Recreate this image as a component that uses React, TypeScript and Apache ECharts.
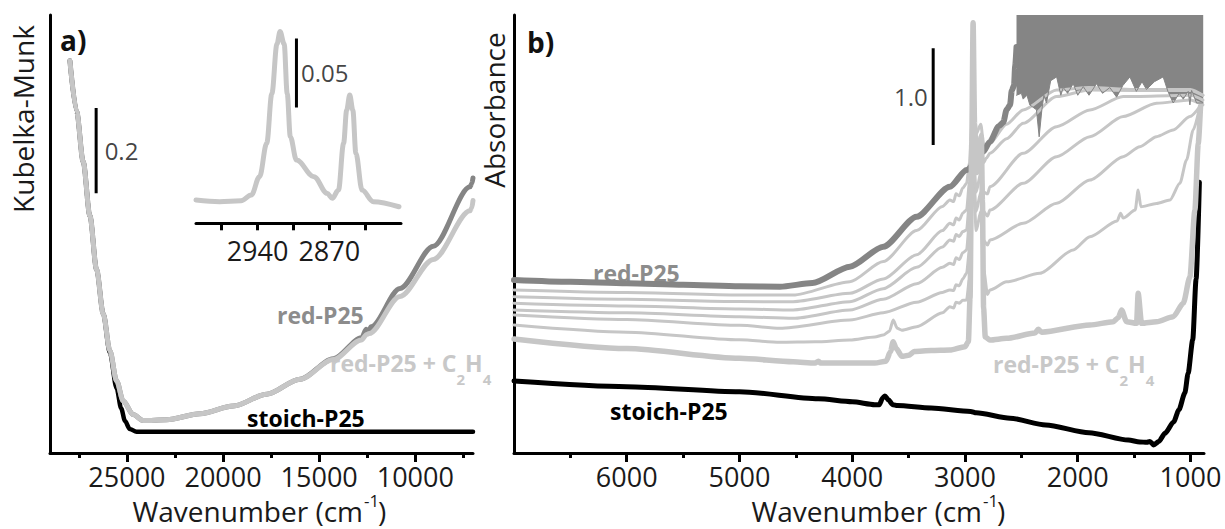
import { useEffect, useRef } from 'react';
import * as echarts from 'echarts';

type P = [number, number];

const FONT = '"Open Sans", "DejaVu Sans", sans-serif';
const DARK = '#858585';
const LIGHT = '#c6c6c6';

// ---------------- Panel a (Kubelka-Munk) ----------------
const aTicksMajor = [25000, 20000, 15000, 10000];
const aTicksMinor = [27500, 22500, 17500, 12500, 7500];

const aStoich: P[] = [
  [27966, 0.92], [27617, 0.801], [27274, 0.683], [26925, 0.556], [26577, 0.43], [26233, 0.327],
  [25885, 0.235], [25536, 0.152], [25300, 0.105], [25100, 0.075], [24850, 0.056], [24500, 0.05], [7000, 0.05],
];
const aRedP25: P[] = [
  [27966, 0.92], [27617, 0.801], [27274, 0.683], [26925, 0.556], [26577, 0.43], [26233, 0.327],
  [25885, 0.24], [25536, 0.169], [25193, 0.122], [24672, 0.09], [24152, 0.076], [22934, 0.078],
  [21202, 0.092], [19469, 0.11], [17731, 0.138], [15999, 0.173], [14266, 0.221], [12800, 0.27],
  [12550, 0.29], [12450, 0.283], [12300, 0.296], [10796, 0.386], [9063, 0.485], [7154, 0.624],
  [7060, 0.632], [7000, 0.645],
];
const aRedP25C2H4: P[] = [
  [27966, 0.92], [27617, 0.801], [27274, 0.683], [26925, 0.556], [26577, 0.43], [26233, 0.327],
  [25885, 0.24], [25536, 0.169], [25193, 0.122], [24672, 0.09], [24152, 0.076], [22934, 0.078],
  [21202, 0.092], [19469, 0.11], [17731, 0.138], [15999, 0.173], [14266, 0.219], [12800, 0.265],
  [12528, 0.278], [12400, 0.28], [10796, 0.367], [9063, 0.454], [7154, 0.568], [7060, 0.575], [7000, 0.592],
];
const aScaleBar: P[] = [[26600, 0.609], [26600, 0.809]];
const aScaleText = '0.2';

// ---------------- Inset (C-H region) ----------------
const insetTicks = [2975, 2940, 2905, 2870, 2835];
const insetTickLabels = [2940, 2870];
const insetCH: P[] = [
  [3000, 0.0169], [2977, 0.0157], [2956, 0.0164], [2946, 0.0205], [2938, 0.0338], [2931, 0.058],
  [2926, 0.094], [2921, 0.13], [2918, 0.139], [2914, 0.13], [2911, 0.094], [2908, 0.0628],
  [2902, 0.0459], [2885, 0.0338], [2872, 0.0217], [2867, 0.0181], [2861, 0.0241], [2856, 0.058],
  [2853, 0.082], [2850, 0.093], [2847, 0.082], [2844, 0.0507], [2838, 0.0241], [2827, 0.0157], [2802, 0.012],
];
const insetScaleBar: P[] = [[2902, 0.084], [2902, 0.134]];
const insetScaleText = '0.05';

// ---------------- Panel b (Absorbance) ----------------
const bTicksMajor = [6000, 5000, 4000, 3000, 2000, 1000];
const bTicksMinor = [6500, 5500, 4500, 3500, 2500, 1500];

const bStoich: P[] = [
  [7000, 0.745], [6000, 0.686], [5000, 0.634], [4300, 0.56], [4000, 0.53], [3800, 0.5], [3760, 0.5],
  [3730, 0.57], [3710, 0.59], [3680, 0.55], [3640, 0.5], [3600, 0.49], [3300, 0.465], [2950, 0.43],
  [2900, 0.415], [2600, 0.36], [2284, 0.29], [1900, 0.21], [1551, 0.134], [1450, 0.115], [1388, 0.11],
  [1360, 0.12], [1326, 0.083], [1280, 0.12], [1226, 0.204], [1150, 0.32], [1103, 0.445], [1050, 0.62],
  [1021, 0.824], [980, 1.17], [950, 1.8], [921, 2.8],
];
const bRedP25: P[] = [
  [7000, 1.789], [6500, 1.77], [6000, 1.755], [5500, 1.74], [5000, 1.725], [4641, 1.72], [4353, 1.758],
  [4021, 1.927], [3725, 2.133], [3429, 2.444], [3134, 2.754], [2986, 2.927], [2838, 3.116], [2779, 3.22],
  [2700, 3.38], [2660, 3.42], [2631, 3.55], [2600, 3.6], [2585, 3.75], [2565, 3.8], [2555, 4.0], [2543, 4.2],
];
const bRedP25Saturated: P[] = [
  [2543, 3.7], [2500, 3.72], [2484, 3.66], [2450, 3.7], [2425, 3.6], [2366, 3.55], [2342, 3.27],
  [2318, 3.55], [2300, 3.7], [2277, 3.62], [2240, 3.85], [2187, 3.89], [2150, 3.7], [2128, 3.78],
  [2090, 3.72], [2040, 3.82], [2000, 3.7], [1951, 3.79], [1900, 3.7], [1833, 3.82], [1780, 3.72],
  [1715, 3.78], [1655, 3.68], [1600, 3.8], [1537, 3.89], [1480, 3.74], [1430, 3.84], [1390, 3.76],
  [1320, 3.84], [1242, 3.89], [1200, 3.74], [1153, 3.62], [1100, 3.72], [1064, 3.66], [1020, 3.74],
  [1005, 3.6], [990, 3.75], [946, 3.62], [887, 3.62],
];
const bStep1: P[] = [
  [7000, 1.686], [6000, 1.66], [5000, 1.635], [4524, 1.634], [4021, 1.772], [3725, 1.98], [3429, 2.3],
  [3200, 2.55], [3134, 2.616], [3100, 2.6], [3080, 2.68], [3050, 2.66], [3020, 2.74], [2986, 2.789],
  [2960, 3.0], [2930, 3.6], [2900, 3.3], [2860, 3.4], [2835, 3.2], [2810, 3.15], [2779, 3.203],
  [2631, 3.4], [2484, 3.548], [2187, 3.755], [1900, 3.78], [1500, 3.76], [1000, 3.76], [890, 3.7],
];
const bStep2: P[] = [
  [7000, 1.616], [6000, 1.59], [5000, 1.566], [4524, 1.565], [4021, 1.651], [3725, 1.8], [3429, 2.05],
  [3200, 2.3], [3134, 2.375], [3100, 2.36], [3080, 2.43], [3050, 2.41], [3020, 2.48], [2986, 2.513],
  [2960, 2.8], [2930, 3.5], [2900, 3.1], [2860, 3.3], [2835, 3.0], [2810, 3.05], [2779, 3.099],
  [2631, 3.25], [2484, 3.41], [2187, 3.686], [1892, 3.755], [1500, 3.75], [1000, 3.75], [890, 3.7],
];
const bStep3: P[] = [
  [7000, 1.548], [6000, 1.52], [5000, 1.49], [4524, 1.479], [4021, 1.565], [3725, 1.7], [3429, 1.92],
  [3200, 2.13], [3134, 2.203], [3100, 2.19], [3080, 2.26], [3050, 2.24], [3020, 2.29], [2986, 2.306],
  [2960, 2.6], [2930, 3.4], [2900, 2.9], [2860, 3.1], [2835, 2.7], [2800, 2.68], [2779, 2.754],
  [2484, 3.099], [2187, 3.375], [1892, 3.548], [1597, 3.686], [1000, 3.7], [890, 3.65],
];
const bStep4: P[] = [
  [7000, 1.479], [6000, 1.45], [5000, 1.41], [4524, 1.393], [4021, 1.479], [3725, 1.59], [3429, 1.75],
  [3200, 1.92], [3134, 1.962], [3100, 1.95], [3080, 2.02], [3050, 2.0], [3020, 2.07], [2986, 2.099],
  [2960, 2.4], [2930, 3.2], [2900, 2.7], [2860, 2.9], [2835, 2.5], [2800, 2.45], [2779, 2.513],
  [2484, 2.789], [2187, 3.065], [1892, 3.272], [1597, 3.479], [1301, 3.617], [1005, 3.651], [890, 3.6],
];
const bStep5: P[] = [
  [7000, 1.427], [6000, 1.38], [5000, 1.32], [4641, 1.29], [4021, 1.375], [3725, 1.45], [3429, 1.56],
  [3200, 1.66], [3134, 1.686], [3100, 1.68], [3080, 1.74], [3050, 1.73], [3020, 1.8], [2986, 1.858],
  [2960, 2.1], [2930, 3.0], [2900, 2.5], [2860, 2.7], [2835, 2.2], [2800, 2.15], [2779, 2.203],
  [2484, 2.375], [2187, 2.582], [1892, 2.823], [1597, 3.065], [1449, 3.168], [1301, 3.272],
  [1153, 3.341], [1005, 3.479], [917, 3.582],
];
const bStep6: P[] = [
  [7000, 1.324], [6000, 1.25], [5000, 1.17], [4641, 1.145], [4330, 1.15], [4021, 1.169], [3800, 1.2],
  [3725, 1.22], [3670, 1.26], [3637, 1.375], [3600, 1.29], [3560, 1.27], [3429, 1.306], [3200, 1.45],
  [3134, 1.513], [3100, 1.5], [3080, 1.56], [3050, 1.55], [3020, 1.58], [2986, 1.582], [2960, 1.8],
  [2930, 2.9], [2900, 2.3], [2860, 2.5], [2835, 1.9], [2800, 1.64], [2779, 1.686], [2631, 1.77],
  [2336, 1.858], [2040, 2.1], [1892, 2.237], [1650, 2.4], [1620, 2.48], [1597, 2.43], [1490, 2.513],
  [1464, 2.719], [1440, 2.547], [1301, 2.581], [1182, 2.616], [1094, 2.789], [1035, 3.031], [976, 3.341], [917, 3.582],
];
const bRedP25C2H4: P[] = [
  [7000, 1.179], [6000, 1.08], [5000, 0.98], [4524, 0.944], [4330, 0.93], [4300, 0.95], [4280, 0.93],
  [3800, 0.93], [3700, 0.95], [3660, 1.05], [3637, 1.151], [3610, 1.08], [3560, 1.0], [3500, 1.01],
  [3450, 1.05], [3300, 1.06], [3134, 1.065], [3000, 1.1], [2970, 1.15], [2955, 1.6], [2940, 3.2],
  [2928, 4.45], [2915, 3.4], [2895, 2.9], [2875, 2.95], [2855, 3.27], [2845, 2.6], [2835, 1.5],
  [2820, 1.2], [2779, 1.169], [2631, 1.186], [2380, 1.24], [2350, 1.28], [2320, 1.25], [1892, 1.324],
  [1685, 1.358], [1640, 1.4], [1611, 1.479], [1567, 1.358], [1478, 1.341], [1464, 1.651], [1434, 1.341],
  [1301, 1.358], [1153, 1.41], [1064, 1.548], [1005, 1.82], [961, 2.51], [931, 3.2], [911, 3.58],
];
const bScaleBar: P[] = [[3282, 3.185], [3282, 4.185]];
const bScaleText = '1.0';

const SMOOTH = { smooth: 0.25, smoothMonotone: 'x' };

function lineSeries(data: P[], xi: number, yi: number, color: string, width: number, extra: any = {}) {
  return {
    type: 'line', xAxisIndex: xi, yAxisIndex: yi, data, showSymbol: false, symbol: 'none', silent: true,
    lineStyle: { color, width, cap: 'round', join: 'round' }, itemStyle: { color }, ...extra,
  };
}

function barLabel(bar: P[], xi: number, yi: number, text: string, position: string, distance: number) {
  const mid: P = [bar[0][0], (bar[0][1] + bar[1][1]) / 2];
  return {
    type: 'scatter', xAxisIndex: xi, yAxisIndex: yi, data: [mid], symbolSize: 1, silent: true,
    itemStyle: { color: 'rgba(0,0,0,0)' },
    label: { show: true, formatter: text, position, distance, fontSize: 24, color: '#111', fontFamily: FONT },
  };
}

const plain = (v: number) => String(v);

function mainX(grid: number, min: number, max: number, ticks: number[]) {
  return {
    type: 'value', gridIndex: grid, min, max, inverse: true, position: 'bottom',
    axisLine: { show: true, onZero: false, lineStyle: { color: '#000', width: 3 } },
    axisTick: { show: true, customValues: ticks, length: 9, lineStyle: { color: '#000', width: 3 } },
    axisLabel: { show: true, customValues: ticks, formatter: plain, fontSize: 27, lineHeight: 27, color: '#1a1a1a', fontFamily: FONT, margin: 10 },
    splitLine: { show: false },
  };
}
function minorX(grid: number, min: number, max: number, ticks: number[]) {
  return {
    type: 'value', gridIndex: grid, min, max, inverse: true, position: 'bottom', offset: 0,
    axisLine: { show: false, onZero: false },
    axisTick: { show: true, customValues: ticks, length: 5, lineStyle: { color: '#000', width: 3 } },
    axisLabel: { show: false },
    splitLine: { show: false },
  };
}

const subRich = (color: string, size: number) => ({
  n: { fontSize: size, fontWeight: 'bold', fontFamily: FONT, fill: color, lineHeight: size, verticalAlign: 'top' },
  s: { fontSize: 15, fontWeight: 'bold', fontFamily: FONT, fill: color, lineHeight: 15, padding: [20, 0, 0, 0], verticalAlign: 'top' },
});

function txt(x: number, y: number, text: string, fill: string, size: number, bold: boolean, align = 'left') {
  return {
    type: 'text', x, y, silent: true,
    style: { text, fill, fontSize: size, fontWeight: bold ? 'bold' : 'normal', fontFamily: FONT, align, verticalAlign: 'middle', lineHeight: size },
  };
}

// axis title "Wavenumber (cm^-1)" built from three texts whose anchor is the end of "(cm"
function axisTitle(xEnd: number) {
  return [
    txt(xEnd, 511, 'Wavenumber (cm', '#1a1a1a', 28, false, 'right'),
    txt(xEnd + 1, 500, '-1', '#1a1a1a', 17, false, 'left'),
    txt(xEnd + 15, 511, ')', '#1a1a1a', 28, false, 'left'),
  ];
}

export default function App() {
  const ref = useRef<HTMLDivElement>(null);
  useEffect(() => {
    if (!ref.current) return;
    const chart = echarts.init(ref.current, undefined, { renderer: 'svg' });
    const option: any = {
      animation: false,
      backgroundColor: '#ffffff',
      grid: [
        { left: 50, top: 15, width: 423, height: 438, outerBoundsMode: 'none', containLabel: false },
        { left: 514, top: 15, width: 690, height: 438, outerBoundsMode: 'none', containLabel: false },
        { left: 196, top: 15, width: 205, height: 208.3, outerBoundsMode: 'none', containLabel: false },
      ],
      xAxis: [
        mainX(0, 7000, 29000, aTicksMajor),
        minorX(0, 7000, 29000, aTicksMinor),
        mainX(1, 880, 7000, bTicksMajor),
        minorX(1, 880, 7000, bTicksMinor),
        {
          type: 'value', gridIndex: 2, min: 2800, max: 3000, inverse: true, position: 'bottom',
          axisLine: { show: true, onZero: false, lineStyle: { color: '#000', width: 3 } },
          axisTick: { show: true, customValues: insetTicks, length: 7, lineStyle: { color: '#000', width: 3 } },
          axisLabel: { show: true, customValues: insetTickLabels, formatter: plain, fontSize: 27, lineHeight: 27, color: '#1a1a1a', fontFamily: FONT, margin: 14 },
          splitLine: { show: false },
        },
      ],
      yAxis: [
        { type: 'value', gridIndex: 0, min: 0, max: 1.027, axisLine: { show: true, onZero: false, lineStyle: { color: '#000', width: 3 } }, axisTick: { show: false }, axisLabel: { show: false }, splitLine: { show: false } },
        { type: 'value', gridIndex: 1, min: 0, max: 4.53, axisLine: { show: true, onZero: false, lineStyle: { color: '#000', width: 3 } }, axisTick: { show: false }, axisLabel: { show: false }, splitLine: { show: false } },
        { type: 'value', gridIndex: 2, min: 0, max: 0.151, show: false },
      ],
      series: [
        // panel a
        lineSeries(aStoich, 0, 0, '#000', 4.5, { smooth: 0.3, smoothMonotone: 'x' }),
        lineSeries(aRedP25, 0, 0, DARK, 5, { smooth: 0.3, smoothMonotone: 'x' }),
        lineSeries(aRedP25C2H4, 0, 0, LIGHT, 5, { smooth: 0.3, smoothMonotone: 'x' }),
        lineSeries(aScaleBar, 0, 0, '#000', 3, { lineStyle: { color: '#000', width: 3, cap: 'butt' } }),
        barLabel(aScaleBar, 0, 0, aScaleText, 'right', 8),
        // inset
        lineSeries(insetCH, 4, 2, LIGHT, 5, { smooth: 0.35, smoothMonotone: 'x' }),
        lineSeries(insetScaleBar, 4, 2, '#000', 3, { lineStyle: { color: '#000', width: 3, cap: 'butt' } }),
        barLabel(insetScaleBar, 4, 2, insetScaleText, 'right', 4),
        // panel b
        lineSeries(bStep6, 2, 1, LIGHT, 3, SMOOTH),
        lineSeries(bStep5, 2, 1, LIGHT, 3, SMOOTH),
        lineSeries(bStep4, 2, 1, LIGHT, 3, SMOOTH),
        lineSeries(bStep3, 2, 1, LIGHT, 3, SMOOTH),
        lineSeries(bStep2, 2, 1, LIGHT, 3, SMOOTH),
        lineSeries(bStep1, 2, 1, LIGHT, 3, SMOOTH),
        lineSeries(bStoich, 2, 1, '#000', 5, SMOOTH),
        lineSeries(bRedP25, 2, 1, DARK, 6, SMOOTH),
        lineSeries(bRedP25C2H4, 2, 1, LIGHT, 5.5, SMOOTH),
        lineSeries(bRedP25Saturated, 2, 1, DARK, 1, { areaStyle: { color: DARK, opacity: 1, origin: 'end' } }),
        lineSeries(bScaleBar, 2, 1, '#000', 3, { lineStyle: { color: '#000', width: 3, cap: 'butt' } }),
        barLabel(bScaleBar, 2, 1, bScaleText, 'left', 5),
      ],
      graphic: [
        txt(60, 40, 'a)', '#111', 28, true),
        txt(527, 42, 'b)', '#111', 28, true),
        { type: 'text', x: 23, y: 119, rotation: Math.PI / 2, silent: true,
          style: { text: 'Kubelka-Munk', fill: '#1a1a1a', fontSize: 28, fontFamily: FONT, align: 'center', verticalAlign: 'middle' } },
        { type: 'text', x: 494, y: 110, rotation: Math.PI / 2, silent: true,
          style: { text: 'Absorbance', fill: '#1a1a1a', fontSize: 28, fontFamily: FONT, align: 'center', verticalAlign: 'middle' } },
        ...axisTitle(363),
        ...axisTitle(982),
        txt(277, 315, 'red-P25', '#8c8c8c', 23, true),
        txt(247, 418, 'stoich-P25', '#000', 23, true),
        { type: 'text', x: 330, y: 363, silent: true,
          style: { text: '{n|red-P25 + C}{s|2}{n|H}{s|4}', rich: subRich('#c8c8c8', 23), align: 'left', verticalAlign: 'middle' } },
        txt(593, 273, 'red-P25', '#8c8c8c', 23, true),
        txt(610, 411, 'stoich-P25', '#000', 23, true),
        { type: 'text', x: 993, y: 364, silent: true,
          style: { text: '{n|red-P25 + C}{s|2}{n|H}{s|4}', rich: subRich('#c8c8c8', 23), align: 'left', verticalAlign: 'middle' } },
      ],
    };
    chart.setOption(option);
    return () => chart.dispose();
  }, []);
  return <div ref={ref} style={{ position: 'fixed', left: 0, top: 0, width: 1225, height: 529, background: '#fff' }} />;
}
